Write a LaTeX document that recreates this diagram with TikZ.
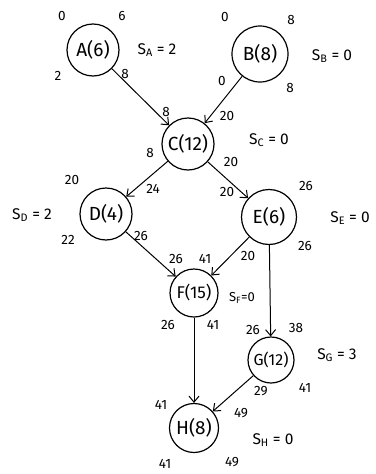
\documentclass[tikz,border=0pt]{standalone}
\usepackage{fontspec}
\setmainfont{Fira Sans}
\usetikzlibrary{arrows.meta}
\begin{document}
\begin{tikzpicture}[x=1pt,y=-1pt,
  task/.style={circle,draw,line width=1.2pt,inner sep=0pt,minimum size=52pt,font=\fontsize{19}{21}\selectfont},
  arr/.style={line width=1pt,-{Straight Barb[length=6pt,width=10pt,line width=1pt]}},
  num/.style={font=\fontsize{13.5}{15}\selectfont},
  slack/.style={font=\fontsize{15.5}{17}\selectfont}]
\useasboundingbox (0,0) rectangle (375,474);
% nodes
\node[task] (A) at (93,50) {A(6)};
\node[task,minimum size=56pt] (B) at (260,54) {B(8)};
\node[task] (C) at (188,144) {C(12)};
\node[task] (D) at (106,214) {D(4)};
\node[task,minimum size=55pt] (E) at (269,217) {E(6)};
\node[task,minimum size=48pt,font=\fontsize{17}{19}\selectfont] (F) at (194,293) {F(15)};
\node[task,minimum size=46pt,font=\fontsize{16}{18}\selectfont] (G) at (271,360) {G(12)};
\node[task,minimum size=49pt] (H) at (194,428) {H(8)};
% edges
\draw[arr] (A) -- (C);
\draw[arr] (B) -- (C);
\draw[arr] (C) -- (D);
\draw[arr] (C) -- (E);
\draw[arr] (D) -- (F);
\draw[arr] (E) -- (F);
\draw[arr] (E) -- (G);
\draw[arr] (F) -- (H);
\draw[arr] (G) -- (H);
% A labels
\node[num] (a1) at (62,16) {0};
\node[num] (a2) at (122,16) {6};
\node[num] (a3) at (58,76) {2};
\node[num] (a4) at (125,74) {8};
\node[slack] (sa) at (157,50) {S\textsubscript{A} = 2};
% B labels
\node[num] (b1) at (225,17) {0};
\node[num] (b2) at (291,20) {8};
\node[num] (b3) at (222,81) {0};
\node[num] (b4) at (290,88) {8};
\node[slack] (sb) at (332,56) {S\textsubscript{B} = 0};
% C labels
\node[num] (c1) at (166,112) {8};
\node[num] (c2) at (227,116) {20};
\node[num] (c3) at (150,153) {8};
\node[num] (c4) at (231,162) {20};
\node[slack] (sc) at (269,140) {S\textsubscript{C} = 0};
% D labels
\node[num] (d1) at (72,180) {20};
\node[num] (d2) at (153,189) {24};
\node[num] (d3) at (68,240) {22};
\node[num] (d4) at (141,236) {26};
\node[slack] (sd) at (32,215) {S\textsubscript{D} = 2};
% E labels
\node[num] (e1) at (227,192) {20};
\node[num] (e2) at (306,186) {26};
\node[num] (e3) at (305,246) {26};
\node[slack] (se) at (350,218) {S\textsubscript{E} = 0};
% F labels
\node[num] (f1) at (176,259) {26};
\node[num] (f2) at (205,259) {41};
\node[num] (f3) at (248,256) {20};
\node[slack,font=\fontsize{13}{15}\selectfont] (sf) at (242,298) {S\textsubscript{F}=0};
\node[num] (f4) at (168,325) {26};
\node[num] (f5) at (213,325) {41};
% G labels
\node[num] (g1) at (253,330) {26};
\node[num] (g2) at (296,328) {38};
\node[num] (g3) at (261,391) {29};
\node[num] (g4) at (305,388) {41};
\node[slack] (sg) at (337,355) {S\textsubscript{G} = 3};
% H labels
\node[num] (h1) at (161,405) {41};
\node[num] (h2) at (241,413) {49};
\node[num] (h3) at (165,464) {41};
\node[num] (h4) at (232,462) {49};
\node[slack] (sh) at (273,440) {S\textsubscript{H} = 0};
\end{tikzpicture}
\end{document}
